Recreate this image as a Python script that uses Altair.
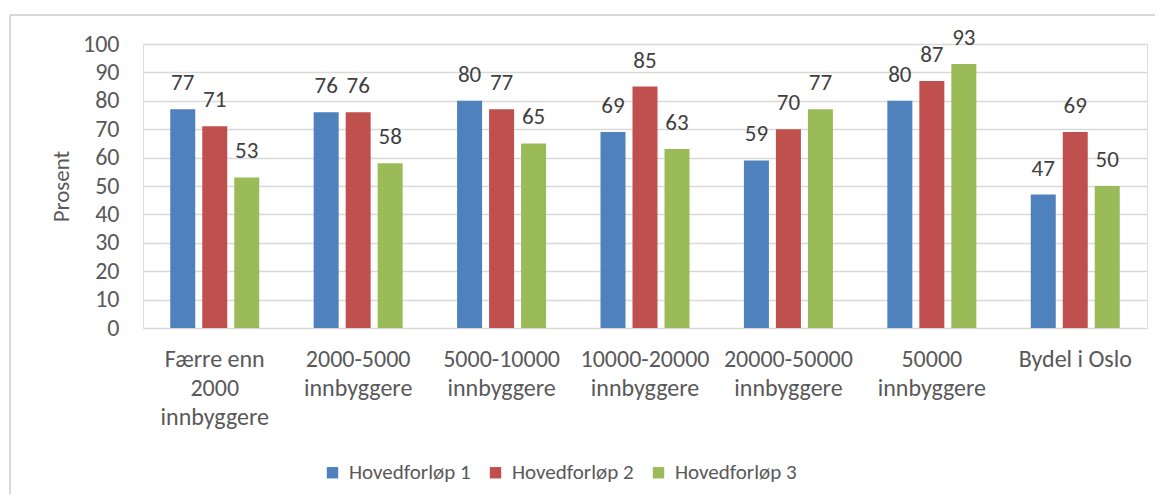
import altair as alt
import pandas as pd

categories = ["Færre enn|2000|innbyggere", "2000-5000|innbyggere", "5000-10000|innbyggere",
              "10000-20000|innbyggere", "20000-50000|innbyggere", "50000|innbyggere", "Bydel i Oslo"]
series = ["Hovedforløp 1", "Hovedforløp 2", "Hovedforløp 3"]
h1 = [77, 76, 80, 69, 59, 80, 47]
h2 = [71, 76, 77, 85, 70, 87, 69]
h3 = [53, 58, 65, 63, 77, 93, 50]
colors = ["#4F81BD", "#C0504D", "#9BBB59"]
y_ticks = list(range(0, 101, 10))

rows = []
for s, vals in zip(series, [h1, h2, h3]):
    for c, v in zip(categories, vals):
        rows.append({"kategori": c, "serie": s, "verdi": v})
df = pd.DataFrame(rows)

FONT = "Carlito, Lato"
FS = 23

x_enc = alt.X("kategori:N", sort=categories, title=None,
              scale=alt.Scale(paddingInner=0.3795, paddingOuter=0.19),
              axis=alt.Axis(labelExpr="split(datum.label, '|')", labelAngle=0,
                            labelFontSize=24, labelColor="#595959", labelFont=FONT,
                            labelPadding=19, labelLineHeight=29, domain=False, ticks=False,
                            labelBaseline="top"))
xoff = alt.XOffset("serie:N", sort=series,
                   scale=alt.Scale(paddingInner=0.21875, paddingOuter=0))
y_enc = alt.Y("verdi:Q", title="Prosent",
              scale=alt.Scale(domain=[0, 100], nice=False),
              axis=alt.Axis(values=y_ticks, grid=True, gridColor="#D9D9D9", gridWidth=1.5,
                            domain=False, ticks=False, labelFontSize=24, labelColor="#595959",
                            labelFont=FONT, labelPadding=24, labelOverlap=False,
                            titleFont=FONT, titleFontSize=FS,
                            titleFontWeight="normal", titleColor="#595959", titlePadding=9))
color = alt.Color("serie:N", sort=series, scale=alt.Scale(domain=series, range=colors),
                  legend=alt.Legend(title=None, orient="none", direction="horizontal",
                                    legendX=179, legendY=418, symbolType="square",
                                    symbolSize=130, symbolStrokeWidth=0, labelFont=FONT,
                                    labelFontSize=21, labelColor="#595959",
                                    columnPadding=14, symbolOffset=0, labelOffset=6))

base = alt.Chart(df)
bars = base.mark_bar().encode(x=x_enc, xOffset=xoff, y=y_enc, color=color)
labels = base.mark_text(baseline="alphabetic", dy=-19, font=FONT, fontSize=FS, color="#404040").encode(
    x=x_enc, xOffset=xoff, y=y_enc, text="verdi:Q")

border_top = alt.Chart(pd.DataFrame({"a": [0]})).mark_rule(color="#D9D9D9", strokeWidth=2).encode(
    x=alt.value(-133), x2=alt.value(1020), y=alt.value(-29))
border_left = alt.Chart(pd.DataFrame({"a": [0]})).mark_rule(color="#D9D9D9", strokeWidth=2).encode(
    x=alt.value(-133), y=alt.value(-29), y2=alt.value(460))

chart = alt.layer(border_top, border_left, bars, labels).properties(
    width=1004, height=284,
    autosize=alt.AutoSizeParams(type="none"),
    padding={"left": 135, "top": 36, "right": 8, "bottom": 166},
).configure_view(stroke=None).configure(background="white")

chart.save("out.html", embed_options={"renderer": "svg", "actions": False})
